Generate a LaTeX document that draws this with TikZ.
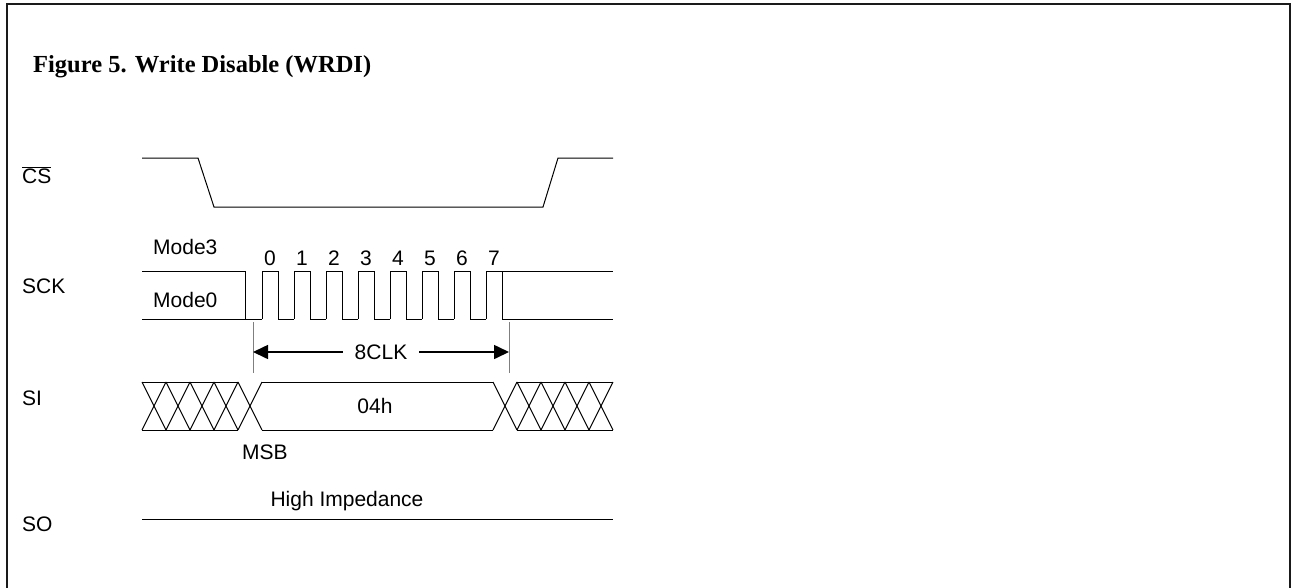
\documentclass[tikz,border=0pt]{standalone}
\usepackage{fontspec}
\setmainfont{Liberation Sans}
\newfontfamily\titlefont{Liberation Serif}
\usetikzlibrary{arrows.meta}

\def\xL{142}
\def\xR{613}
\def\csHi{158}
\def\csLo{207}
\def\ckHi{271}
\def\ckLo{319}
\def\siHi{382}
\def\siLo{430}
\def\soY{519}
\definecolor{wdline}{HTML}{000000}
\definecolor{wdtick}{HTML}{7F7F7F}
\definecolor{wdframe}{HTML}{1A1A1A}

\begin{document}
\begin{tikzpicture}[
  x=1pt, y=-1pt,
  font=\fontsize{21}{25}\selectfont,
  wave/.style={draw=wdline, line width=1pt},
  siglabel/.style={anchor=west, inner sep=0pt},
  txt/.style={inner sep=0pt},
  dimarrow/.style={draw=wdline, line width=1.6pt, -{Triangle[length=15pt, width=14pt]}}
]

  \useasboundingbox (0,0) rectangle (1293,587);

  % --------------------------------------------------------------------
  % Frame and title
  % --------------------------------------------------------------------

  \draw[draw=wdframe, line width=1.5pt]
    (7,592) -- (7,4) -- (1290,4) -- (1290,592);

  \node[
    anchor=base west,
    inner sep=0pt,
    font=\titlefont\bfseries\fontsize{24.5}{28}\selectfont
  ] (title) at (33,72) {Figure 5. Write Disable (WRDI)};

  % --------------------------------------------------------------------
  % Signal names
  % --------------------------------------------------------------------

  \node[siglabel] (lblcs)  at (22,175) {$\overline{\hbox{CS}}$};
  \node[siglabel] (lblsck) at (22,286) {SCK};
  \node[siglabel] (lblsi)  at (22,398) {SI};
  \node[siglabel] (lblso)  at (22,524) {SO};

  % --------------------------------------------------------------------
  % CS
  % --------------------------------------------------------------------

  \draw[wave]
    (\xL,\csHi) -- (198,\csHi) -- (214,\csLo)
    -- (543,\csLo) -- (558,\csHi) -- (\xR,\csHi);

  % --------------------------------------------------------------------
  % SCK
  % --------------------------------------------------------------------

  \node[siglabel] (mode3) at (153,247) {Mode3};
  \node[siglabel] (mode0) at (153,300) {Mode0};

  \draw[wave] (\xL,\ckHi) -- (245,\ckHi) -- (245,\ckLo);
  \draw[wave] (\xL,\ckLo) -- (262,\ckLo);

  \foreach \k in {0,...,7}{
    \draw[wave]
      (262+32*\k,\ckLo) -- ++(0,-48) -- ++(16,0) -- ++(0,48) -- ++(16,0);
    \node[txt] (bit\k) at (270+32*\k,258) {\k};
  }

  \draw[wave] (502,\ckHi) -- (\xR,\ckHi);
  \draw[wave] (502,\ckLo) -- (\xR,\ckLo);

  % --------------------------------------------------------------------
  % 8CLK span
  % --------------------------------------------------------------------

  \draw[draw=wdtick, line width=0.8pt] (253,322) -- (253,373);
  \draw[draw=wdtick, line width=0.8pt] (509,322) -- (509,373);

  \coordinate (tickL) at (253,352);
  \coordinate (tickR) at (509,352);

  \node[inner xsep=12pt, inner ysep=0pt] (clk) at (381,352) {8CLK};

  \draw[dimarrow] (clk.west) -- (tickL);
  \draw[dimarrow] (clk.east) -- (tickR);

  % --------------------------------------------------------------------
  % SI
  % --------------------------------------------------------------------

  \foreach \xs in {142,166,190,214,238,493,517,541,565,589}{
    \draw[wave] (\xs,\siHi) -- ++(24,48);
    \draw[wave] (\xs,\siLo) -- ++(24,-48);
  }

  \draw[wave] (\xL,\siHi) -- (238,\siHi);
  \draw[wave] (\xL,\siLo) -- (238,\siLo);
  \draw[wave] (262,\siHi) -- (493,\siHi);
  \draw[wave] (262,\siLo) -- (493,\siLo);
  \draw[wave] (517,\siHi) -- (\xR,\siHi);
  \draw[wave] (517,\siLo) -- (\xR,\siLo);

  \node[txt] (data) at (375,406) {04h};
  \node[txt] (msb)  at (265,452) {MSB};

  % --------------------------------------------------------------------
  % SO
  % --------------------------------------------------------------------

  \draw[wave] (\xL,\soY) -- (\xR,\soY);
  \node[txt] (hiz) at (347,501) {High Impedance};

\end{tikzpicture}
\end{document}
